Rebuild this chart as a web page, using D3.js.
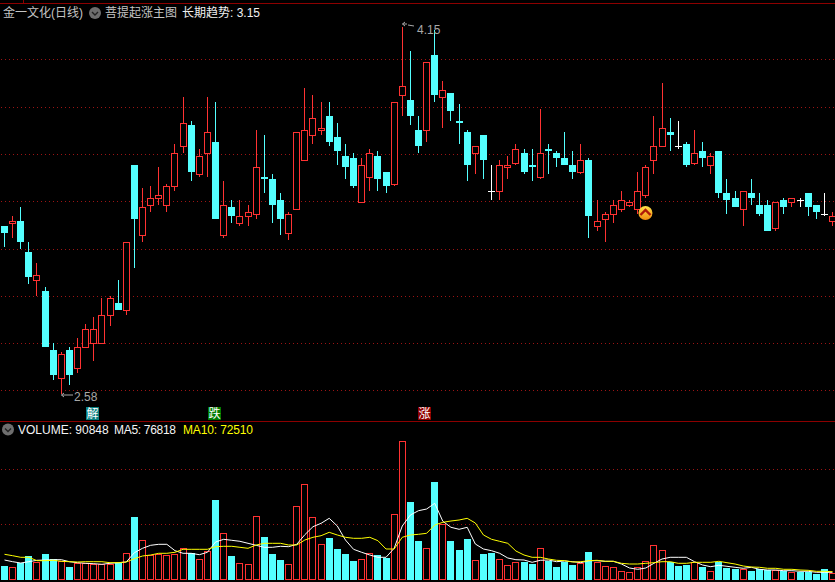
<!DOCTYPE html>
<html><head><meta charset="utf-8">
<script src="https://cdn.jsdelivr.net/npm/d3@7/dist/d3.min.js"></script>
<style>
html,body{margin:0;padding:0;background:#000;overflow:hidden}
svg{display:block}
text{font-family:"Liberation Sans","Noto Sans CJK SC",sans-serif;font-size:12px}
</style></head><body>
<svg id="c" width="835" height="582"></svg>
<script>
const opens=[3.30,3.31,3.32,3.19,3.07,3.02,2.77,2.65,2.77,2.69,2.78,2.80,2.80,2.92,2.97,2.94,3.56,3.26,3.39,3.42,3.39,3.47,3.64,3.73,3.52,3.61,3.66,3.26,3.38,3.31,3.34,3.35,3.51,3.50,3.41,3.27,3.37,3.58,3.69,3.71,3.77,3.68,3.60,3.59,3.40,3.51,3.60,3.53,3.48,3.86,3.84,3.71,3.71,4.03,3.85,3.87,3.75,3.70,3.61,3.69,3.45,3.45,3.55,3.57,3.61,3.56,3.51,3.63,3.61,3.59,3.56,3.53,3.58,3.30,3.33,3.35,3.37,3.39,3.37,3.43,3.58,3.64,3.70,3.64,3.65,3.57,3.62,3.56,3.62,3.44,3.42,3.37,3.44,3.39,3.39,3.29,3.41,3.40,3.41,3.44,3.39,3.35,3.32];
const closes=[3.27,3.32,3.23,3.08,3.09,2.78,2.66,2.75,2.66,2.78,2.86,2.86,2.92,2.99,2.94,3.23,3.33,3.38,3.42,3.43,3.47,3.61,3.74,3.53,3.60,3.70,3.33,3.39,3.34,3.34,3.36,3.55,3.50,3.39,3.33,3.35,3.70,3.71,3.76,3.72,3.66,3.62,3.55,3.47,3.56,3.61,3.50,3.47,3.83,3.90,3.77,3.64,4.00,3.86,3.88,3.79,3.74,3.56,3.64,3.58,3.45,3.56,3.56,3.63,3.53,3.55,3.61,3.62,3.59,3.56,3.53,3.58,3.34,3.32,3.35,3.39,3.41,3.40,3.45,3.55,3.64,3.72,3.69,3.64,3.56,3.61,3.59,3.60,3.44,3.41,3.38,3.45,3.42,3.35,3.28,3.40,3.38,3.42,3.41,3.38,3.36,3.35,3.34];
const highs=[3.30,3.34,3.38,3.23,3.14,3.04,2.80,2.76,2.78,2.82,2.88,2.91,2.99,3.00,3.07,3.23,3.56,3.46,3.47,3.55,3.48,3.65,3.85,3.75,3.63,3.85,3.83,3.49,3.41,3.41,3.39,3.71,3.69,3.52,3.44,3.36,3.70,3.89,3.86,3.83,3.83,3.74,3.65,3.61,3.59,3.63,3.62,3.53,3.83,4.15,4.05,3.77,4.00,4.14,3.92,3.87,3.82,3.71,3.64,3.69,3.56,3.58,3.60,3.65,3.63,3.63,3.80,3.65,3.62,3.70,3.62,3.65,3.59,3.41,3.36,3.41,3.45,3.41,3.53,3.56,3.77,3.91,3.76,3.75,3.66,3.71,3.66,3.61,3.62,3.50,3.45,3.45,3.50,3.44,3.41,3.40,3.42,3.42,3.42,3.44,3.39,3.44,3.36];
const lows=[3.21,3.25,3.20,3.05,3.00,2.78,2.64,2.58,2.62,2.67,2.78,2.72,2.80,2.87,2.94,2.92,3.12,3.23,3.36,3.39,3.36,3.45,3.61,3.49,3.51,3.51,3.33,3.25,3.31,3.30,3.30,3.33,3.44,3.31,3.26,3.24,3.37,3.58,3.65,3.69,3.64,3.56,3.50,3.46,3.40,3.45,3.45,3.44,3.47,3.77,3.73,3.61,3.66,3.83,3.72,3.75,3.65,3.49,3.52,3.50,3.41,3.41,3.50,3.56,3.52,3.49,3.50,3.52,3.55,3.56,3.50,3.52,3.25,3.28,3.23,3.31,3.36,3.38,3.35,3.42,3.52,3.64,3.62,3.63,3.55,3.56,3.55,3.52,3.42,3.35,3.38,3.30,3.39,3.34,3.28,3.28,3.35,3.38,3.38,3.34,3.33,3.34,3.30];
const volumes=[140,130,173,240,180,260,210,190,130,173,170,160,160,160,170,267,630,397,250,260,250,260,317,270,210,290,800,467,240,170,160,637,430,260,200,160,737,957,627,357,420,310,260,190,207,267,250,220,657,1387,780,390,317,980,560,390,300,410,197,260,270,207,147,177,180,160,317,190,130,180,150,170,280,180,140,130,90,80,130,187,347,297,180,140,150,180,130,90,180,120,110,110,90,110,100,100,90,80,80,80,60,110,73].map(v=>v*1000);
const ma5=[200,183,170,183,197,200,203,203,183,173,167,163,157,167,173,180,273,317,347,357,357,293,267,267,253,277,380,407,397,387,367,347,327,327,337,333,357,453,533,567,617,540,400,307,277,250,227,227,317,540,650,693,710,767,587,527,507,527,360,310,293,267,220,203,200,177,197,200,183,190,183,173,193,193,187,187,160,120,107,120,167,210,227,227,227,183,150,133,147,137,127,117,127,107,100,100,93,93,87,87,77,77,77].map(v=>v*1000);
const ma10=[257,243,227,227,193,193,197,187,183,180,183,183,183,173,173,180,213,240,250,267,267,277,307,307,307,307,333,337,337,327,317,350,367,367,367,350,350,400,427,443,477,450,427,417,417,427,393,310,310,427,450,457,467,550,577,590,600,617,570,450,407,387,367,290,250,227,227,210,197,193,180,183,193,197,187,187,167,160,160,167,173,183,183,167,167,177,177,177,187,173,160,140,130,127,117,117,107,107,100,97,87,87,83].map(v=>v*1000);
const priceGrid=[4.011,3.808,3.606,3.404,3.20,2.998,2.796,2.593];
const volumeGrid=[1105000,555000];
const signalLabels=[{t:"解",i:10.5,bg:"#0a8080"},{t:"跌",i:25.5,bg:"#007a00"},{t:"涨",i:51.4,bg:"#8e0000"}];
const risingIndex=78.96;
const highNote="4.15", lowNote="2.58";

const W=835,H=582,UP="#ff3232",DOWN="#54ffff",FRAME="#8c0000",DOT="#9c1414";
const svg=d3.select("#c");
svg.append("rect").attr("width",W).attr("height",H).attr("fill","#000");
const x=d3.scaleLinear().domain([0,opens.length-1]).range([4,832]);
const y=d3.scaleLinear().domain([2.58,4.15]).range([394,27.3]);
const yv=d3.scaleLinear().domain([0,1600000]).range([580,420]);
const X=i=>Math.round(x(i)), Y=p=>Math.round(y(p)), YV=v=>Math.round(yv(v));

function grid(scale,vals){
  const g=svg.append("g").call(d3.axisRight(scale).tickValues(vals).tickSize(W).tickFormat(""));
  g.select(".domain").remove();
  g.selectAll(".tick").attr("transform",d=>`translate(0,${Math.floor(scale(d))+.5})`);
  g.selectAll("line").attr("stroke",DOT).attr("stroke-dasharray","1 3").attr("stroke-dashoffset",-1);
}
grid(y,priceGrid); grid(yv,volumeGrid);

const frame=svg.append("g").attr("stroke",FRAME).attr("shape-rendering","crispEdges");
frame.append("line").attr("x1",0).attr("x2",W).attr("y1",3.5).attr("y2",3.5);
frame.append("line").attr("x1",0).attr("x2",W).attr("y1",421.5).attr("y2",421.5);
frame.append("line").attr("x1",23.5).attr("x2",23.5).attr("y1",0).attr("y2",3);

const idx=d3.range(opens.length);
const kind=i=>closes[i]>opens[i]?"up":closes[i]<opens[i]?"down":"flat";
const col=i=>({up:UP,down:DOWN,flat:"#ffffff"})[kind(i)];

const k=svg.append("g").attr("shape-rendering","crispEdges");
k.selectAll("line.w").data(idx).join("line").attr("class","w")
 .attr("x1",i=>X(i)+.5).attr("x2",i=>X(i)+.5)
 .attr("y1",i=>Y(highs[i])).attr("y2",i=>Y(lows[i])).attr("stroke",col);
k.selectAll("rect.b").data(idx).join("rect").attr("class","b").each(function(i){
  const s=d3.select(this),top=Y(Math.max(opens[i],closes[i])),bot=Y(Math.min(opens[i],closes[i]));
  if(kind(i)==="up") s.attr("x",X(i)-2.5).attr("y",top+.5).attr("width",6).attr("height",Math.max(bot-top,2)).attr("fill","#000").attr("stroke",UP);
  else if(kind(i)==="down") s.attr("x",X(i)-3).attr("y",top).attr("width",7).attr("height",Math.max(bot-top,2)).attr("fill",DOWN);
  else s.attr("x",X(i)-3).attr("y",top).attr("width",7).attr("height",1).attr("fill","#fff");
});

const v=svg.append("g").attr("shape-rendering","crispEdges");
v.selectAll("rect").data(idx).join("rect").each(function(i){
  const s=d3.select(this),t=YV(volumes[i]);
  if(kind(i)==="up") s.attr("x",X(i)-2.5).attr("y",t+.5).attr("width",6).attr("height",579-t).attr("fill","#000").attr("stroke",UP);
  else s.attr("x",X(i)-3).attr("y",t).attr("width",7).attr("height",580-t).attr("fill",DOWN);
});
const lineGen=a=>d3.line().x(i=>x(i)+.5).y(i=>yv(a[i]))(idx);
svg.append("path").attr("d",lineGen(ma5)).attr("fill","none").attr("stroke","#ffffff").attr("stroke-width",1);
svg.append("path").attr("d",lineGen(ma10)).attr("fill","none").attr("stroke","#ffff00").attr("stroke-width",1);

function txt(s,px,py,c,size){return svg.append("text").attr("x",px).attr("y",py).attr("fill",c).style("font-size",(size||12)+"px").text(s);}
txt("金一文化(日线)",3,17,"#c4c4c4");
txt("菩提起涨主图",105,17,"#c4c4c4");
txt("长期趋势: 3.15",182,17,"#f0f0f0");
txt("VOLUME: 90848",18,434,"#f4f4f4");
txt("MA5: 76818",114,434,"#f4f4f4").attr("textLength",62);
txt("MA10: 72510",183,434,"#ffff00").attr("textLength",70);
function chevronBtn(cx,cy){
  svg.append("circle").attr("cx",cx).attr("cy",cy).attr("r",6).attr("fill","#6e6e6e");
  svg.append("path").attr("d",`M${cx-3},${cy-1}L${cx},${cy+2}L${cx+3},${cy-1}`).attr("fill","none").attr("stroke","#222").attr("stroke-width",1.4);
}
chevronBtn(95,13); chevronBtn(8,429.5);

svg.append("path").attr("d",`M${X(49)+.5},${Y(4.15)-3}L${X(49)+5},${Y(4.15)-3}M${X(49)+.5},${Y(4.15)-3}L${X(49)+3},${Y(4.15)-5}M${X(49)+.5},${Y(4.15)-3}L${X(49)+3},${Y(4.15)-1}M${X(49)+6},${Y(4.15)-2}L${X(49)+12},${Y(4.15)-1}`).attr("stroke","#a8a8a8").attr("fill","none");
txt(highNote,417,34,"#a8a8a8");
svg.append("path").attr("d",`M${X(7)+.5},${Y(2.58)+1}L${X(7)+12},${Y(2.58)+1}M${X(7)+.5},${Y(2.58)+1}L${X(7)+3},${Y(2.58)-1}M${X(7)+.5},${Y(2.58)+1}L${X(7)+3},${Y(2.58)+3}`).attr("stroke","#a8a8a8").attr("fill","none");
txt(lowNote,74,401,"#a8a8a8");

const tags=svg.append("g");
signalLabels.forEach(d=>{
  const l=X(d.i)-3;
  tags.append("rect").attr("x",l).attr("y",407).attr("width",13).attr("height",13).attr("fill",d.bg);
  tags.append("text").attr("x",l+6.5).attr("y",418).attr("text-anchor","middle").attr("fill","#fff").style("font-size","12px").text(d.t);
});

const defs=svg.append("defs");
const gr=defs.append("linearGradient").attr("id","og").attr("x1",0).attr("y1",0).attr("x2",0).attr("y2",1);
gr.append("stop").attr("offset","0").attr("stop-color","#ffe24a");
gr.append("stop").attr("offset","1").attr("stop-color","#f08a10");
const mx=x(risingIndex)+.5,my=213;
svg.append("circle").attr("cx",mx).attr("cy",my).attr("r",7).attr("fill","url(#og)");
svg.append("path").attr("d",`M${mx-5},${my+2}L${mx},${my-3}L${mx+5},${my+2}`).attr("fill","none").attr("stroke","#b01808").attr("stroke-width",2.4);
</script>
</body></html>
